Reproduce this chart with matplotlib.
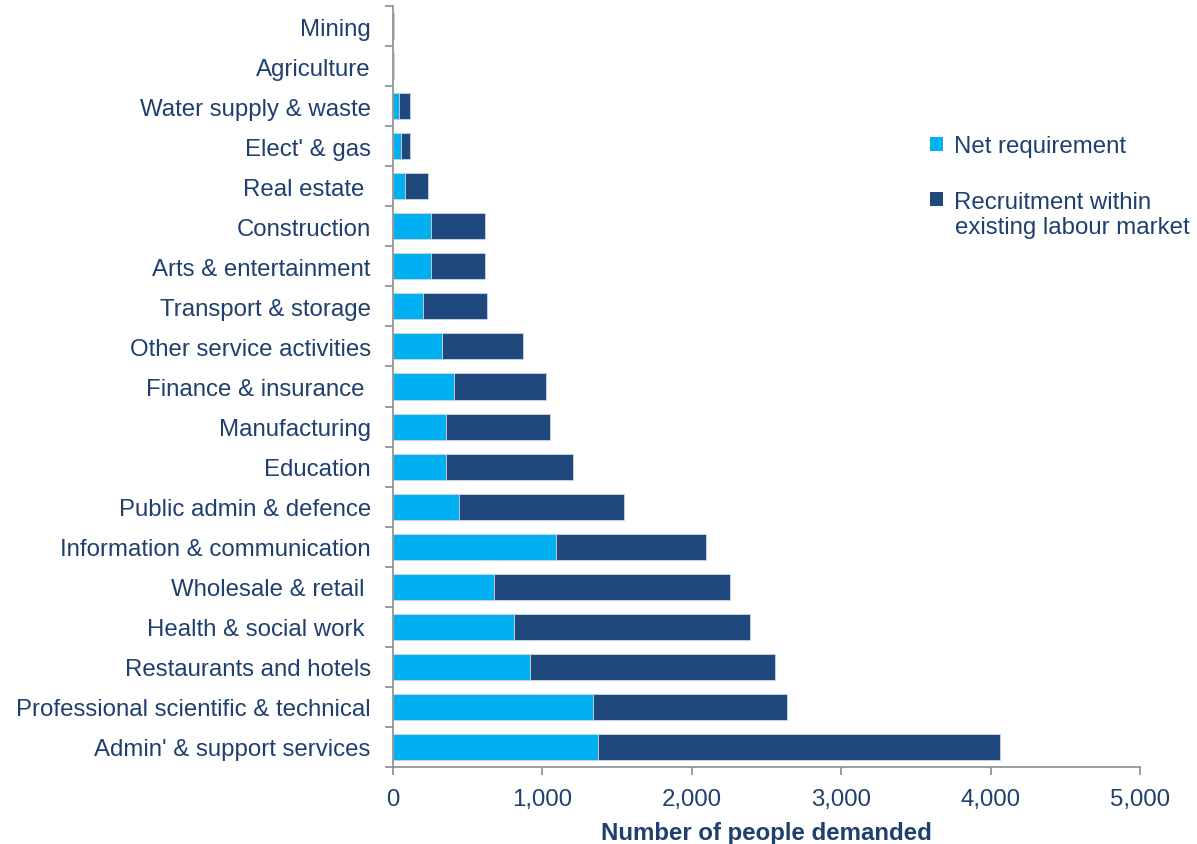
import numpy as np
import matplotlib.pyplot as plt
from matplotlib.patches import Patch
from matplotlib.ticker import FuncFormatter

plt.rcParams['font.family'] = ['Liberation Sans', 'DejaVu Sans']

sectors = [
    "Admin' & support services",
    "Professional scientific & technical",
    "Restaurants and hotels",
    "Health & social work ",
    "Wholesale & retail ",
    "Information & communication",
    "Public admin & defence",
    "Education",
    "Manufacturing",
    "Finance & insurance ",
    "Other service activities",
    "Transport & storage",
    "Arts & entertainment",
    "Construction",
    "Real estate ",
    "Elect' & gas",
    "Water supply & waste",
    "Agriculture",
    "Mining",
]
net_req = [1372, 1336, 916, 810, 673, 1094, 440, 357, 357, 408, 328, 203, 254, 254, 80, 51, 40, 4, 3]
total = [4060, 2638, 2556, 2392, 2259, 2095, 1544, 1205, 1053, 1022, 868, 631, 614, 614, 232, 112, 112, 6, 4]
recruit = [t - n for t, n in zip(total, net_req)]

light = '#00B0F0'
dark = '#1F497D'
text_col = '#1F3F6E'
fs = 17.3

fig = plt.figure(figsize=(11.97, 8.45), dpi=100)
ax = fig.add_axes([0.3283, 0.0911, 0.6241, 0.9006])

y = np.arange(len(sectors))
ax.barh(y, net_req, height=0.65, color=light, edgecolor='#c9d6e6', linewidth=0.6)
ax.barh(y, recruit, left=net_req, height=0.65, color=dark, edgecolor='#c9d6e6', linewidth=0.6)

ax.set_ylim(-0.5, len(sectors) - 0.5)
ax.set_xlim(0, 5000)
ax.set_xticks(np.arange(0, 5001, 1000))
ax.xaxis.set_major_formatter(FuncFormatter(lambda v, p: f"{int(v):,}"))
ax.set_yticks(y)
ax.set_yticklabels(sectors)
ax.set_yticks(np.arange(-0.5, len(sectors), 1), minor=True)
ax.tick_params(axis='y', which='major', length=0, pad=16, labelsize=fs, labelcolor=text_col)
ax.tick_params(axis='y', which='minor', length=6, width=1.2, color='#8c8c8c', direction='out')
ax.tick_params(axis='x', which='major', length=6, width=1.2, color='#8c8c8c', labelsize=fs,
               labelcolor=text_col, pad=9)

for side in ['top', 'right']:
    ax.spines[side].set_visible(False)
for side in ['left', 'bottom']:
    ax.spines[side].set_color('#8c8c8c')
    ax.spines[side].set_linewidth(1.2)

ax.set_xlabel("Number of people demanded", fontsize=fs, fontweight='bold', color=text_col, labelpad=8)

handles = [Patch(facecolor=light, label="Net requirement"),
           Patch(facecolor=dark, label="Recruitment within")]
leg = fig.legend(handles=handles, loc='upper left', bbox_to_anchor=(0.769, 0.850),
                 frameon=False, fontsize=fs, handlelength=0.55, handleheight=0.55,
                 handletextpad=0.45, labelspacing=1.38, borderaxespad=0)
for t in leg.get_texts():
    t.set_color(text_col)
fig.text(0.798, 0.730, "existing labour market", fontsize=fs, color=text_col,
         ha='left', va='center')

fig.savefig('out.png', dpi=100)
